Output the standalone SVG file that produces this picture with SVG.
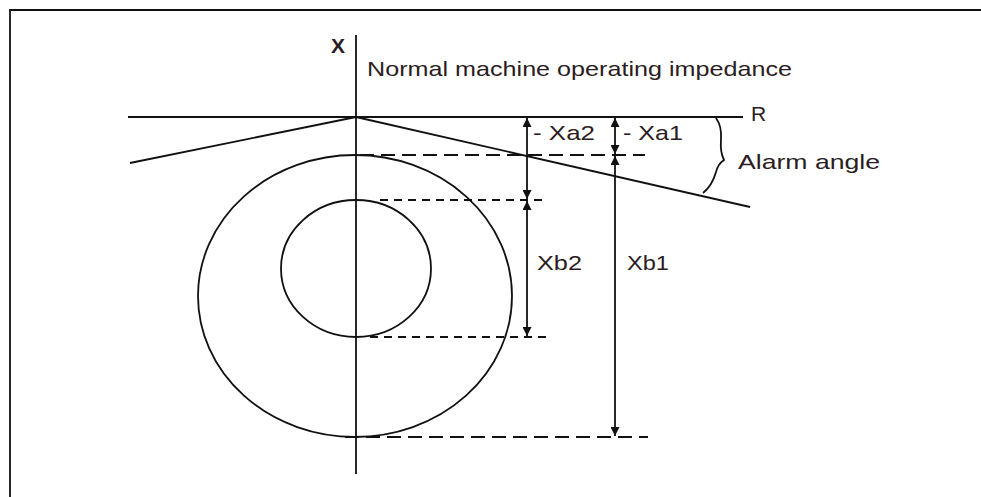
<svg xmlns="http://www.w3.org/2000/svg" width="981" height="497" viewBox="0 0 981 497">
<style>
.ln{stroke:#111;stroke-width:1.8;fill:none}
.dash{stroke:#111;stroke-width:1.8;fill:none;stroke-dasharray:14 7}
.dash2{stroke:#111;stroke-width:1.8;fill:none;stroke-dasharray:8 6}
.t{font-family:"Liberation Sans",Arial,sans-serif;fill:#2a1c22;font-size:21px}
</style>
<defs>
<marker id="ah" viewBox="0 0 10 10" refX="10" refY="5" markerWidth="11" markerHeight="9" markerUnits="userSpaceOnUse" orient="auto-start-reverse">
<path d="M0,0 L10,5 L0,10 Z" fill="#111"/>
</marker>
</defs>
<rect width="981" height="497" fill="#fff"/>
<g id="frame">
<path class="ln" d="M10,497 L10,10 L981,10" stroke-width="2.5"/>
</g>
<g id="axes">
<line class="ln" x1="356" y1="35" x2="356" y2="474"/>
<line class="ln" x1="128" y1="117" x2="743" y2="117"/>
<text class="t" x="331" y="53" font-size="22" font-weight="bold">X</text>
<text class="t" x="751" y="121" font-size="19">R</text>
</g>
<g id="alarm-lines">
<line class="ln" x1="130" y1="163" x2="356" y2="117"/>
<line class="ln" x1="356" y1="117" x2="750" y2="207"/>
<path class="ln" d="M716,118 Q722,126 721,140 Q720,152 724,160 Q718,164 716,172 Q712,186 703,193"/>
<text class="t" x="738" y="169" textLength="142" lengthAdjust="spacingAndGlyphs">Alarm angle</text>
</g>
<g id="zone1">
<ellipse class="ln" cx="355" cy="296" rx="157" ry="141"/>
</g>
<g id="zone2">
<ellipse class="ln" cx="356" cy="268.5" rx="75" ry="68.5"/>
</g>
<g id="title">
<text class="t" x="367" y="76" textLength="425" lengthAdjust="spacingAndGlyphs">Normal machine operating impedance</text>
</g>
<g id="connectors">
<line class="dash" x1="360" y1="155" x2="645" y2="155"/>
<line class="dash2" x1="380" y1="200" x2="548" y2="200"/>
<line class="dash2" x1="370" y1="337" x2="548" y2="337"/>
<line class="dash" x1="345" y1="437" x2="648" y2="437"/>
<line class="ln" x1="527" y1="118" x2="527" y2="199" marker-start="url(#ah)" marker-end="url(#ah)"/>
<line class="ln" x1="527" y1="201" x2="527" y2="336" marker-start="url(#ah)" marker-end="url(#ah)"/>
<line class="ln" x1="615" y1="118" x2="615" y2="154" marker-start="url(#ah)" marker-end="url(#ah)"/>
<line class="ln" x1="615" y1="156" x2="615" y2="436" marker-start="url(#ah)" marker-end="url(#ah)"/>
</g>
<g id="labels">
<text class="t" x="533" y="140" textLength="62" lengthAdjust="spacingAndGlyphs">- Xa2</text>
<text class="t" x="623" y="140" textLength="60" lengthAdjust="spacingAndGlyphs">- Xa1</text>
<text class="t" x="537" y="270" textLength="45" lengthAdjust="spacingAndGlyphs">Xb2</text>
<text class="t" x="627" y="270" textLength="42" lengthAdjust="spacingAndGlyphs">Xb1</text>
</g>
</svg>
